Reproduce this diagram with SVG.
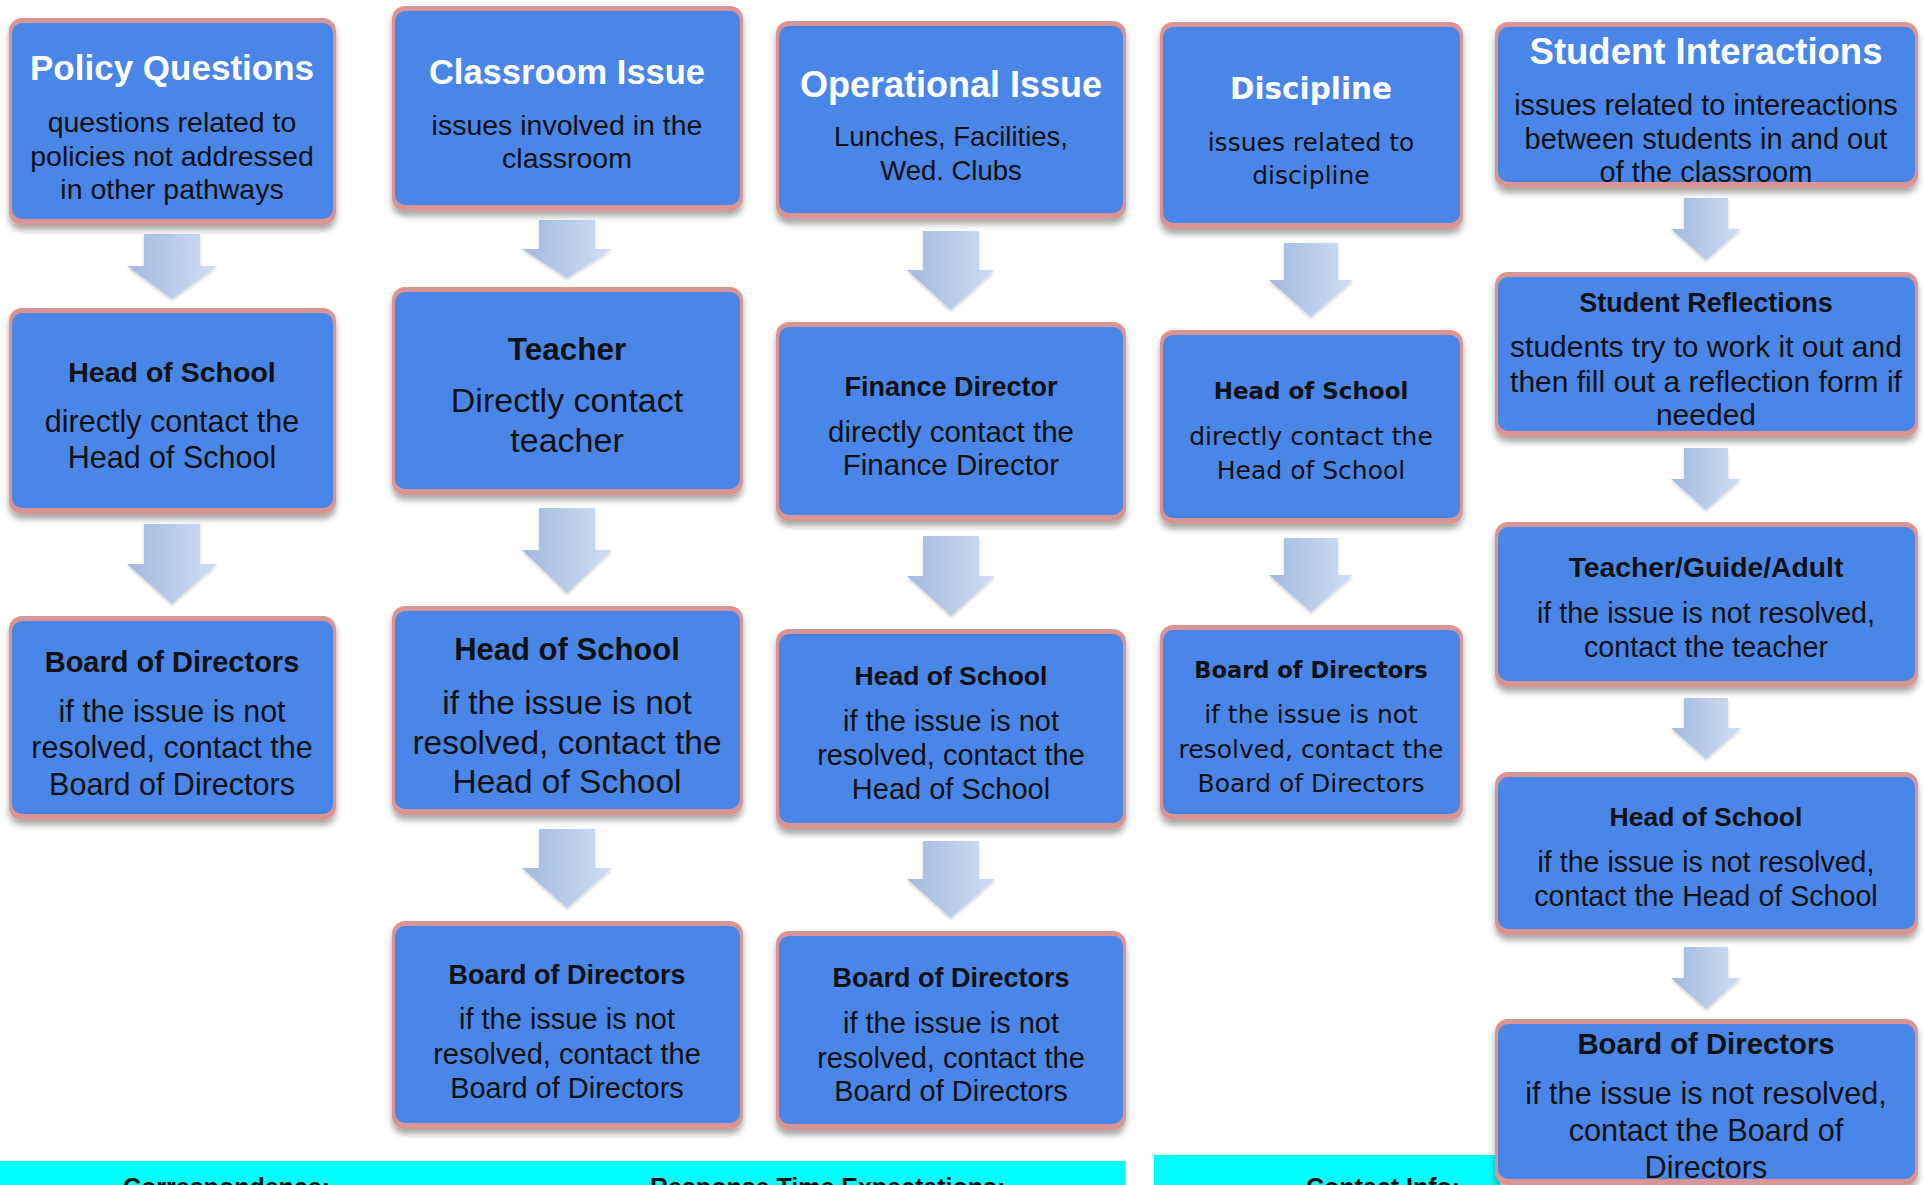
<svg xmlns="http://www.w3.org/2000/svg" width="1925" height="1185" viewBox="0 0 1925 1185">
<defs>
  <filter id="sh" x="-10%" y="-10%" width="120%" height="130%">
    <feDropShadow dx="0" dy="5" stdDeviation="3" flood-color="#000" flood-opacity="0.35"/>
  </filter>
  <filter id="ash" x="-20%" y="-20%" width="140%" height="140%">
    <feDropShadow dx="0" dy="2" stdDeviation="1.5" flood-color="#000" flood-opacity="0.18"/>
  </filter>
  <linearGradient id="ag" x1="0" y1="0" x2="1" y2="0">
    <stop offset="0" stop-color="#a2badf"/>
    <stop offset="1" stop-color="#cfdef4"/>
  </linearGradient>
</defs>
<style>
  .bd{fill:#d99594;filter:url(#sh)}
  .in{fill:#4a86e8}
  .ar{fill:url(#ag);filter:url(#ash)}
  text{font-family:'Liberation Sans',Arial,sans-serif;text-anchor:middle;fill:#111}
  .b{font-weight:bold}
  .w{fill:#ffffff;font-weight:bold}
  .dv text{font-family:'DejaVu Sans',sans-serif}
  .cy{fill:#00ffff}
  .bt{font-weight:bold;text-anchor:start;font-size:25px}
</style>
<rect width="1925" height="1185" fill="#ffffff"/>

<!-- bottom cyan bars -->
<g id="footer">
  <rect class="cy" x="0" y="1161" width="1125" height="24"/>
  <rect class="cy" x="1154" y="1155" width="346" height="30"/>
  <text class="bt" x="123" y="1196">Correspondence:</text>
  <text class="bt" x="650" y="1196">Response Time Expectations:</text>
  <text class="bt" x="1306" y="1196">Contact Info:</text>
</g>

<!-- connectors -->
<g id="connectors">
  <path class="ar" d="M144,234 H200 V266 H217 L172,299 L127,266 H144 Z"/>
  <path class="ar" d="M144,524 H200 V564 H217 L172,604 L127,564 H144 Z"/>

  <path class="ar" d="M539,220 H595 V249 H612 L567,278 L522,249 H539 Z"/>
  <path class="ar" d="M539,508 H595 V550 H612 L567,593 L522,550 H539 Z"/>
  <path class="ar" d="M539,829 H595 V868 H612 L567,908 L522,868 H539 Z"/>

  <path class="ar" d="M923,231 H979 V270 H995 L951,310 L907,270 H923 Z"/>
  <path class="ar" d="M923,536 H979 V576 H995 L951,616 L907,576 H923 Z"/>
  <path class="ar" d="M923,841 H979 V879 H995 L951,918 L907,879 H923 Z"/>

  <path class="ar" d="M1284,243 H1338 V280 H1353 L1311,317 L1269,280 H1284 Z"/>
  <path class="ar" d="M1284,538 H1338 V575 H1353 L1311,612 L1269,575 H1284 Z"/>

  <path class="ar" d="M1684,198 H1728 V229 H1741 L1706,260 L1671,229 H1684 Z"/>
  <path class="ar" d="M1684,448 H1728 V479 H1741 L1706,510 L1671,479 H1684 Z"/>
  <path class="ar" d="M1684,698 H1728 V728 H1741 L1706,759 L1671,728 H1684 Z"/>
  <path class="ar" d="M1684,947 H1728 V978 H1741 L1706,1009 L1671,978 H1684 Z"/>
</g>

<!-- Column 1 -->
<g id="policy-questions">
  <rect class="bd" x="9" y="18" width="327" height="207" rx="13"/>
  <rect class="in" x="12" y="23" width="321" height="196" rx="10"/>
  <text class="w" x="172" y="80" font-size="35">Policy Questions</text>
  <text x="172" y="132" font-size="28.5">questions related to</text>
  <text x="172" y="166" font-size="28.5">policies not addressed</text>
  <text x="172" y="199" font-size="28.5">in other pathways</text>
</g>
<g id="c1-head">
  <rect class="bd" x="9" y="308" width="327" height="206" rx="13"/>
  <rect class="in" x="12" y="313" width="321" height="195" rx="10"/>
  <text class="b" x="172" y="382" font-size="28.5">Head of School</text>
  <text x="172" y="432" font-size="30.5">directly contact the</text>
  <text x="172" y="468" font-size="30.5">Head of School</text>
</g>
<g id="c1-board">
  <rect class="bd" x="9" y="616" width="327" height="204" rx="13"/>
  <rect class="in" x="12" y="621" width="321" height="193" rx="10"/>
  <text class="b" x="172" y="672" font-size="29">Board of Directors</text>
  <text x="172" y="722" font-size="30.5">if the issue is not</text>
  <text x="172" y="758" font-size="30.5">resolved, contact the</text>
  <text x="172" y="795" font-size="30.5">Board of Directors</text>
</g>

<!-- Column 2 -->
<g id="classroom-issue">
  <rect class="bd" x="392" y="6" width="351" height="205" rx="13"/>
  <rect class="in" x="395" y="11" width="345" height="194" rx="10"/>
  <text class="w" x="567" y="84" font-size="34.5">Classroom Issue</text>
  <text x="567" y="135" font-size="28.5">issues involved in the</text>
  <text x="567" y="168" font-size="28.5">classroom</text>
</g>
<g id="c2-teacher">
  <rect class="bd" x="392" y="287" width="351" height="208" rx="13"/>
  <rect class="in" x="395" y="292" width="345" height="197" rx="10"/>
  <text class="b" x="567" y="360" font-size="31.5">Teacher</text>
  <text x="567" y="412" font-size="34">Directly contact</text>
  <text x="567" y="452" font-size="34">teacher</text>
</g>
<g id="c2-head">
  <rect class="bd" x="392" y="606" width="351" height="209" rx="13"/>
  <rect class="in" x="395" y="611" width="345" height="198" rx="10"/>
  <text class="b" x="567" y="660" font-size="31">Head of School</text>
  <text x="567" y="714" font-size="33.5">if the issue is not</text>
  <text x="567" y="754" font-size="33.5">resolved, contact the</text>
  <text x="567" y="793" font-size="33.5">Head of School</text>
</g>
<g id="c2-board">
  <rect class="bd" x="392" y="921" width="351" height="208" rx="13"/>
  <rect class="in" x="395" y="926" width="345" height="197" rx="10"/>
  <text class="b" x="567" y="984" font-size="27">Board of Directors</text>
  <text x="567" y="1029" font-size="29">if the issue is not</text>
  <text x="567" y="1064" font-size="29">resolved, contact the</text>
  <text x="567" y="1098" font-size="29">Board of Directors</text>
</g>

<!-- Column 3 -->
<g id="operational-issue">
  <rect class="bd" x="776" y="21" width="350" height="198" rx="13"/>
  <rect class="in" x="779" y="26" width="344" height="187" rx="10"/>
  <text class="w" x="951" y="97" font-size="36">Operational Issue</text>
  <text x="951" y="146" font-size="27.5">Lunches, Facilities,</text>
  <text x="951" y="180" font-size="27.5">Wed. Clubs</text>
</g>
<g id="c3-finance">
  <rect class="bd" x="776" y="322" width="350" height="199" rx="13"/>
  <rect class="in" x="779" y="327" width="344" height="188" rx="10"/>
  <text class="b" x="951" y="396" font-size="27">Finance Director</text>
  <text x="951" y="442" font-size="29.5">directly contact the</text>
  <text x="951" y="475" font-size="29.5">Finance Director</text>
</g>
<g id="c3-head">
  <rect class="bd" x="776" y="629" width="350" height="200" rx="13"/>
  <rect class="in" x="779" y="634" width="344" height="189" rx="10"/>
  <text class="b" x="951" y="685" font-size="26.5">Head of School</text>
  <text x="951" y="731" font-size="29">if the issue is not</text>
  <text x="951" y="765" font-size="29">resolved, contact the</text>
  <text x="951" y="799" font-size="29">Head of School</text>
</g>
<g id="c3-board">
  <rect class="bd" x="776" y="931" width="350" height="199" rx="13"/>
  <rect class="in" x="779" y="936" width="344" height="188" rx="10"/>
  <text class="b" x="951" y="987" font-size="27">Board of Directors</text>
  <text x="951" y="1033" font-size="29">if the issue is not</text>
  <text x="951" y="1068" font-size="29">resolved, contact the</text>
  <text x="951" y="1101" font-size="29">Board of Directors</text>
</g>

<!-- Column 4 -->
<g id="discipline" class="dv">
  <rect class="bd" x="1160" y="22" width="303" height="207" rx="13"/>
  <rect class="in" x="1163" y="27" width="297" height="196" rx="10"/>
  <text class="w" x="1311" y="99" font-size="29.5">Discipline</text>
  <text x="1311" y="151" font-size="25">issues related to</text>
  <text x="1311" y="184" font-size="25">discipline</text>
</g>
<g id="c4-head" class="dv">
  <rect class="bd" x="1160" y="330" width="303" height="194" rx="13"/>
  <rect class="in" x="1163" y="335" width="297" height="183" rx="10"/>
  <text class="b" x="1311" y="399" font-size="23">Head of School</text>
  <text x="1311" y="445" font-size="25">directly contact the</text>
  <text x="1311" y="479" font-size="25">Head of School</text>
</g>
<g id="c4-board" class="dv">
  <rect class="bd" x="1160" y="625" width="303" height="195" rx="13"/>
  <rect class="in" x="1163" y="630" width="297" height="184" rx="10"/>
  <text class="b" x="1311" y="678" font-size="22.6">Board of Directors</text>
  <text x="1311" y="723" font-size="25">if the issue is not</text>
  <text x="1311" y="758" font-size="25">resolved, contact the</text>
  <text x="1311" y="792" font-size="25">Board of Directors</text>
</g>

<!-- Column 5 -->
<g id="student-interactions">
  <rect class="bd" x="1495" y="22" width="423" height="166" rx="13"/>
  <rect class="in" x="1498" y="27" width="417" height="155" rx="10"/>
  <text class="w" x="1706" y="64" font-size="36.5">Student Interactions</text>
  <text x="1706" y="115" font-size="29">issues related to intereactions</text>
  <text x="1706" y="149" font-size="29">between students in and out</text>
  <text x="1706" y="182" font-size="29">of the classroom</text>
</g>
<g id="c5-reflections">
  <rect class="bd" x="1495" y="272" width="423" height="165" rx="13"/>
  <rect class="in" x="1498" y="277" width="417" height="154" rx="10"/>
  <text class="b" x="1706" y="312" font-size="27">Student Reflections</text>
  <text x="1706" y="357" font-size="30">students try to work it out and</text>
  <text x="1706" y="392" font-size="30">then fill out a reflection form if</text>
  <text x="1706" y="425" font-size="30">needed</text>
</g>
<g id="c5-teacher">
  <rect class="bd" x="1495" y="522" width="423" height="165" rx="13"/>
  <rect class="in" x="1498" y="527" width="417" height="154" rx="10"/>
  <text class="b" x="1706" y="577" font-size="28.3">Teacher/Guide/Adult</text>
  <text x="1706" y="623" font-size="28.7">if the issue is not resolved,</text>
  <text x="1706" y="657" font-size="28.7">contact the teacher</text>
</g>
<g id="c5-head">
  <rect class="bd" x="1495" y="772" width="423" height="163" rx="13"/>
  <rect class="in" x="1498" y="777" width="417" height="152" rx="10"/>
  <text class="b" x="1706" y="826" font-size="26.5">Head of School</text>
  <text x="1706" y="872" font-size="28.6">if the issue is not resolved,</text>
  <text x="1706" y="906" font-size="28.6">contact the Head of School</text>
</g>
<g id="c5-board">
  <rect class="bd" x="1495" y="1019" width="423" height="166" rx="13"/>
  <rect class="in" x="1498" y="1024" width="417" height="155" rx="10"/>
  <text class="b" x="1706" y="1054" font-size="29.3">Board of Directors</text>
  <text x="1706" y="1104" font-size="30.7">if the issue is not resolved,</text>
  <text x="1706" y="1141" font-size="30.7">contact the Board of</text>
  <text x="1706" y="1178" font-size="30.7">Directors</text>
</g>
</svg>
